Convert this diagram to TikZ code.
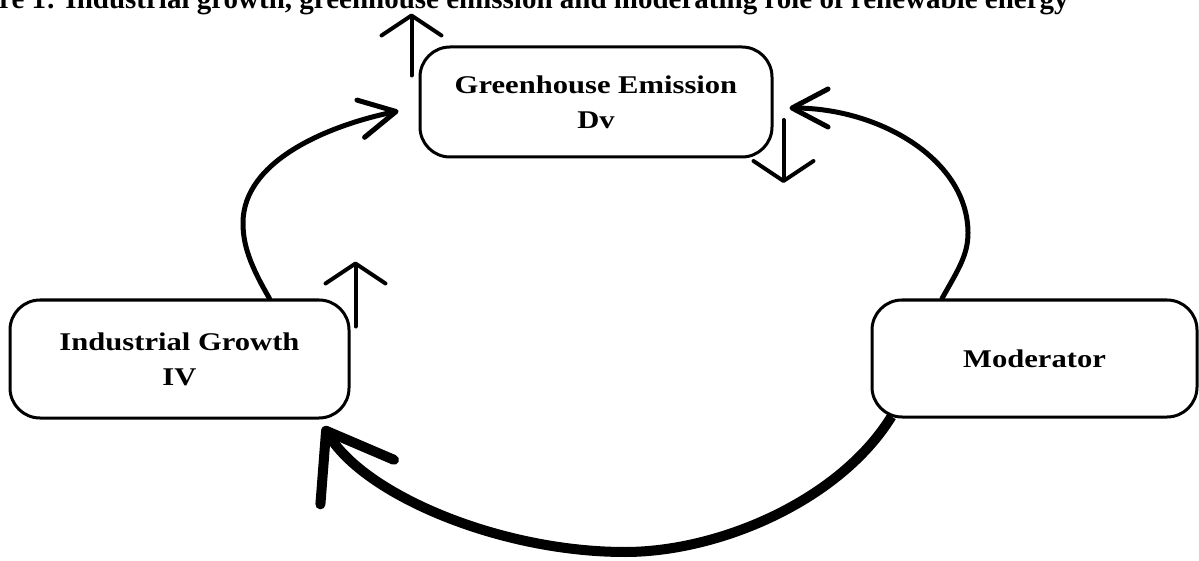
\documentclass[tikz,border=0pt]{standalone}
\usepackage{fontspec}
\setmainfont{Liberation Serif}
\newfontfamily\boxfont[FakeStretch=1.2]{Liberation Serif}
\usetikzlibrary{arrows.meta}
\tikzset{
  box/.style={draw, line width=3pt, rounded corners=30pt, fill=white, inner sep=0pt,
    align=center, font=\boxfont\bfseries\fontsize{25.5}{35}\selectfont},
  thinarrow/.style={line width=4pt, line cap=round, -{Straight Barb[length=20pt,width=60pt,round]}},
  arcarrow/.style={line width=5pt, line cap=round, -{Straight Barb[length=36pt,width=38pt,round]}},
  thickarrow/.style={line width=10pt, -{Straight Barb[length=60pt,width=86pt,round]}},
  titlefont/.style={font=\bfseries\fontsize{29}{33}\selectfont}
}
\begin{document}
\begin{tikzpicture}[x=1pt,y=-1pt]
\useasboundingbox (0,0) rectangle (1199,561);
\node[titlefont, anchor=base west, inner sep=0pt] (title) at (-1,9)
  {re 1: Industrial growth, greenhouse emission and moderating role of renewable energy};

\node[box, minimum width=352pt, minimum height=110pt] (gh) at (596,102) {Greenhouse Emission\\Dv};
\node[box, minimum width=339pt, minimum height=118pt] (ig) at (179.5,359) {Industrial Growth\\IV};
\node[box, minimum width=325pt, minimum height=117pt] (mod) at (1034.5,358.5) {Moderator};

% curved connectors
\draw[arcarrow] ([xshift=90pt]ig.north) .. controls (250,265) and (243,245) .. (243,223)
  .. controls (243,160) and (330,125) .. ([xshift=-20pt,yshift=-9pt]gh.west);
\draw[arcarrow] ([xshift=-92.5pt]mod.north) .. controls (958,270) and (968,255) .. (968,233)
  .. controls (968,160) and (880,108) .. ([xshift=16pt,yshift=-6pt]gh.east);
\draw[thickarrow] ([xshift=21pt,yshift=2pt]mod.south west) .. controls (840,500) and (720,552) .. (625,552)
  .. controls (500,552) and (365,495) .. ([xshift=-27pt,yshift=-7pt]ig.south east);

% short direction arrows
\draw[thinarrow] ([xshift=-7pt,yshift=-30pt]gh.north west) -- ([xshift=-7pt,yshift=32pt]gh.north west);
\draw[thinarrow] ([xshift=10pt,yshift=-18pt]gh.east) -- ([xshift=10pt,yshift=-81pt]gh.east);
\draw[thinarrow] ([xshift=5pt,yshift=-28pt]ig.north east) -- ([xshift=5pt,yshift=37pt]ig.north east);
\end{tikzpicture}
\end{document}
